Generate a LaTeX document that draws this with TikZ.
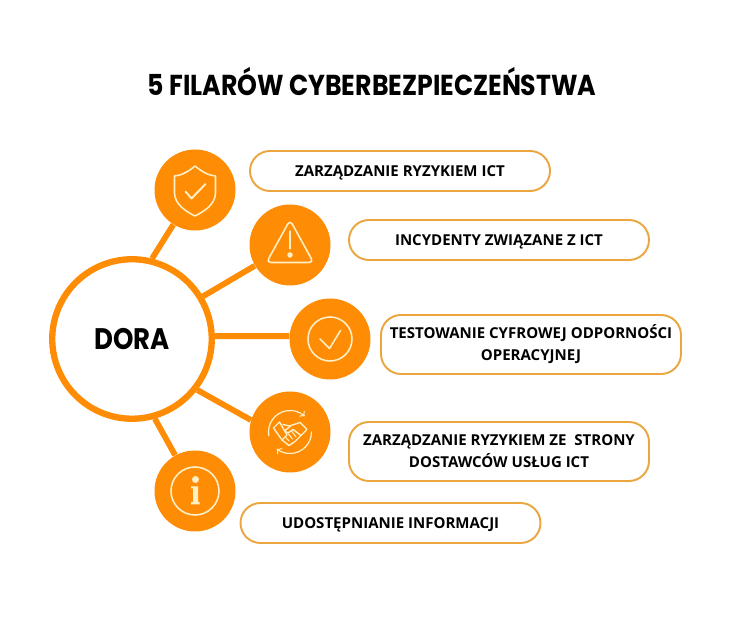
\documentclass[tikz,border=0pt]{standalone}
\usepackage{fontspec}
\setmainfont{Open Sans}
\newfontfamily\titlefont[FakeStretch=0.875]{Poppins}
\definecolor{dorao}{HTML}{FF8C05}
\definecolor{pillo}{HTML}{EBA63F}
\definecolor{iconc}{HTML}{FFEFC4}
\tikzset{
  pillar/.style={circle,fill=dorao,minimum size=1.62cm,inner sep=0pt},
  label/.style={rectangle,draw=pillo,fill=white,rounded corners=0.4cm,line width=1.1pt,minimum width=6cm,minimum height=0.8cm,align=center,font=\fontsize{8.55}{12.6}\selectfont\bfseries,inner sep=0pt,text height=6pt,text depth=0pt},
  longlabel/.style={label,minimum height=1.18cm,text height=18.6pt,text depth=0pt},
  link/.style={-,line width=3.3pt,color=dorao},
  icon/.style={draw=iconc,line width=0.9pt,line join=round,line cap=round}
}
\begin{document}
\begin{tikzpicture}
\useasboundingbox (0,0) rectangle (14.86,12.56);
\node(title) at (7.44,10.93){\titlefont\bfseries\fontsize{16.4}{18}\selectfont 5 FILARÓW CYBERBEZPIECZEŃSTWA};

\node[circle,draw=dorao,fill=white,line width=3.6pt,minimum size=3.19cm,inner sep=0pt] (dora) at (2.64,5.78){\titlefont\bfseries\fontsize{16.9}{18}\selectfont DORA};
\node[pillar] (shield) at (3.90,8.76){};
\node[pillar] (warning) at (5.80,7.66){};
\node[pillar] (check) at (6.60,5.78){};
\node[pillar] (hand) at (5.80,3.92){};
\node[pillar] (info) at (3.90,2.74){};

\node[label] (risk) at (8.00,9.14){ZARZĄDZANIE RYZYKIEM ICT};
\node[label] (incident) at (9.98,7.76){INCYDENTY ZWIĄZANE Z ICT};
\node[longlabel] (test) at (10.62,5.67){TESTOWANIE CYFROWEJ ODPORNOŚCI\\OPERACYJNEJ};
\node[longlabel] (supplier) at (9.98,3.53){ZARZĄDZANIE RYZYKIEM ZE\ \ STRONY\\DOSTAWCÓW USŁUG ICT};
\node[label] (share) at (7.81,2.10){UDOSTĘPNIANIE INFORMACJI};

\draw[link] (dora.76) to (shield);
\draw[link] (dora.31) to (warning);
\draw[link] (dora.2) to (check.176);
\draw[link] (dora.-38) to (hand.163);
\draw[link] (dora.-74) to (info);

% icons
\begin{scope}[shift={(shield)}]
\draw[icon] (0,.48) .. controls (-.14,.36) and (-.28,.29) .. (-.41,.28) -- (-.41,-.05) .. controls (-.41,-.28) and (-.2,-.42) .. (0,-.52) .. controls (.2,-.42) and (.41,-.28) .. (.41,-.05) -- (.41,.28) .. controls (.28,.29) and (.14,.36) .. (0,.48) -- cycle;
\draw[icon,line width=1.1pt] (-.19,-.03) -- (-.07,-.17) -- (.21,.12);
\end{scope}
\begin{scope}[shift={(warning)}]
\draw[icon,rounded corners=2.5pt] (0,.5) -- (-.47,-.35) -- (.47,-.35) -- cycle;
\draw[icon,line width=1.3pt] (0,.27) -- (0,-.07);
\fill[iconc] (0,-.2) circle (.055);
\end{scope}
\begin{scope}[shift={(check)}]
\draw[icon] (0,0) circle (.44);
\draw[icon] (-.2,0) -- (-.01,-.19) -- (.21,.17);
\end{scope}
\begin{scope}[shift={(hand)}]
\draw[icon,line width=.7pt,->] (190:.43) arc (190:47:.43);
\draw[icon,line width=.7pt,->] (0:.43) arc (0:-128:.43);
\draw[icon,line width=.8pt] (-.33,.08) -- (-.21,.2) -- (-.06,-.06) -- (-.16,-.16) -- cycle;
\draw[icon,line width=.8pt] (-.14,.15) -- (-.01,.12) -- (.08,.15) -- (.2,.19) -- (.34,.05) -- (.24,-.05) -- (.1,-.19) -- (-.02,-.27) -- (-.16,-.16);
\draw[icon,line width=.8pt] (.01,.12) -- (-.11,.02) -- (-.04,-.02) -- (.06,.05) -- (.22,-.07);
\draw[icon,line width=.6pt] (-.1,-.1) -- (-.02,-.18) (-.03,-.04) -- (.05,-.14) (.04,.01) -- (.12,-.1);
\end{scope}
\begin{scope}[shift={(info)}]
\draw[icon] (0,0) circle (.48);
\fill[iconc] (.01,.23) circle (.07);
\fill[iconc] (-.08,.09) -- (.06,.09) -- (.06,-.22) -- (.09,-.22) -- (.09,-.27) -- (-.08,-.27) -- (-.08,-.22) -- (-.04,-.22) -- (-.04,.05) -- (-.08,.05) -- cycle;
\end{scope}
\end{tikzpicture}
\end{document}
